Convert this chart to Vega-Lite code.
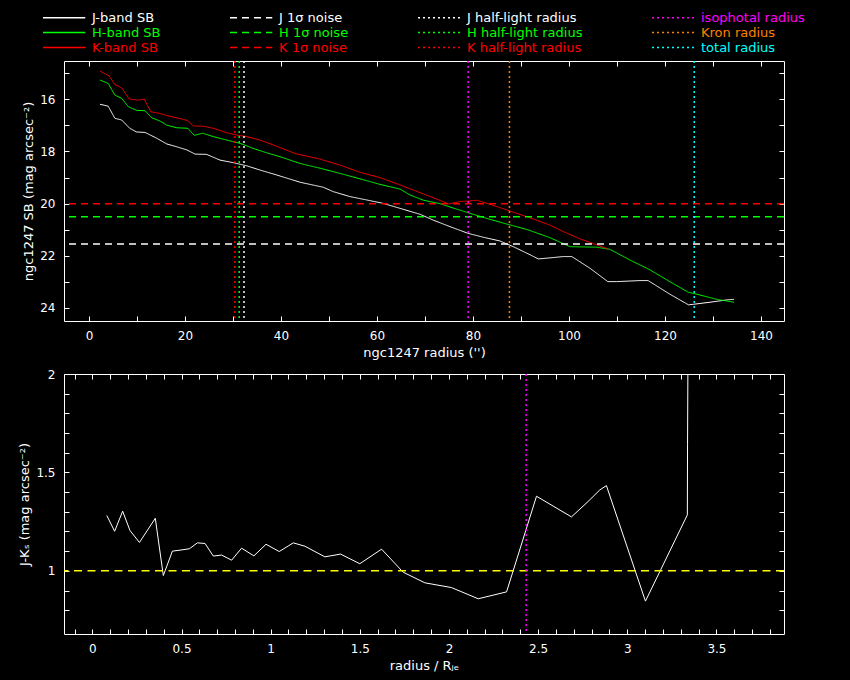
{
  "$schema": "https://vega.github.io/schema/vega-lite/v6.json",
  "background": "black",
  "padding": {"left": 18, "top": 10, "right": 45, "bottom": 8},
  "spacing": 7,
  "config": {
    "view": {"stroke": "white", "strokeWidth": 1},
    "font": "DejaVu Sans",
    "axis": {
      "domain": false,
      "grid": false,
      "tickColor": "white",
      "tickSize": -5,
      "labelColor": "white",
      "labelFont": "DejaVu Sans",
      "labelFontSize": 12,
      "labelPadding": 14,
      "titleColor": "white",
      "titleFont": "DejaVu Sans",
      "titleFontSize": 13,
      "titleFontWeight": "normal"
    }
  },
  "datasets": {
    "sb": [
      {"series": "J-band SB", "r": 2.3, "mu": 16.19},
      {"series": "J-band SB", "r": 4.0, "mu": 16.26},
      {"series": "J-band SB", "r": 5.4, "mu": 16.73},
      {"series": "J-band SB", "r": 6.8, "mu": 16.79},
      {"series": "J-band SB", "r": 8.5, "mu": 17.11},
      {"series": "J-band SB", "r": 9.9, "mu": 17.25},
      {"series": "J-band SB", "r": 11.7, "mu": 17.27},
      {"series": "J-band SB", "r": 14.1, "mu": 17.49},
      {"series": "J-band SB", "r": 16.2, "mu": 17.71},
      {"series": "J-band SB", "r": 18.3, "mu": 17.82},
      {"series": "J-band SB", "r": 20.4, "mu": 17.94},
      {"series": "J-band SB", "r": 22.1, "mu": 18.10},
      {"series": "J-band SB", "r": 24.5, "mu": 18.11},
      {"series": "J-band SB", "r": 27.3, "mu": 18.33},
      {"series": "J-band SB", "r": 30.1, "mu": 18.43},
      {"series": "J-band SB", "r": 32.9, "mu": 18.55},
      {"series": "J-band SB", "r": 35.6, "mu": 18.71},
      {"series": "J-band SB", "r": 39.1, "mu": 18.90},
      {"series": "J-band SB", "r": 44.0, "mu": 19.18},
      {"series": "J-band SB", "r": 48.8, "mu": 19.37},
      {"series": "J-band SB", "r": 50.9, "mu": 19.54},
      {"series": "J-band SB", "r": 54.4, "mu": 19.73},
      {"series": "J-band SB", "r": 57.9, "mu": 19.86},
      {"series": "J-band SB", "r": 61.3, "mu": 19.99},
      {"series": "J-band SB", "r": 64.8, "mu": 20.18},
      {"series": "J-band SB", "r": 69.0, "mu": 20.41},
      {"series": "J-band SB", "r": 71.7, "mu": 20.63},
      {"series": "J-band SB", "r": 75.2, "mu": 20.88},
      {"series": "J-band SB", "r": 79.0, "mu": 21.14},
      {"series": "J-band SB", "r": 82.2, "mu": 21.29},
      {"series": "J-band SB", "r": 85.6, "mu": 21.43},
      {"series": "J-band SB", "r": 88.4, "mu": 21.65},
      {"series": "J-band SB", "r": 91.9, "mu": 21.96},
      {"series": "J-band SB", "r": 93.6, "mu": 22.12},
      {"series": "J-band SB", "r": 95.4, "mu": 22.09},
      {"series": "J-band SB", "r": 98.8, "mu": 22.03},
      {"series": "J-band SB", "r": 100.6, "mu": 22.03},
      {"series": "J-band SB", "r": 104.4, "mu": 22.48},
      {"series": "J-band SB", "r": 108.1, "mu": 22.99},
      {"series": "J-band SB", "r": 109.9, "mu": 22.99},
      {"series": "J-band SB", "r": 114.8, "mu": 22.95},
      {"series": "J-band SB", "r": 116.5, "mu": 22.95},
      {"series": "J-band SB", "r": 121.0, "mu": 23.47},
      {"series": "J-band SB", "r": 124.9, "mu": 23.88},
      {"series": "J-band SB", "r": 125.9, "mu": 23.86},
      {"series": "J-band SB", "r": 129.4, "mu": 23.78},
      {"series": "J-band SB", "r": 132.9, "mu": 23.69},
      {"series": "J-band SB", "r": 134.4, "mu": 23.67},
      {"series": "H-band SB", "r": 2.3, "mu": 15.26},
      {"series": "H-band SB", "r": 4.0, "mu": 15.39},
      {"series": "H-band SB", "r": 5.4, "mu": 15.84},
      {"series": "H-band SB", "r": 6.8, "mu": 15.96},
      {"series": "H-band SB", "r": 8.2, "mu": 16.28},
      {"series": "H-band SB", "r": 9.9, "mu": 16.42},
      {"series": "H-band SB", "r": 11.7, "mu": 16.44},
      {"series": "H-band SB", "r": 13.1, "mu": 16.71},
      {"series": "H-band SB", "r": 14.8, "mu": 16.83},
      {"series": "H-band SB", "r": 16.2, "mu": 16.99},
      {"series": "H-band SB", "r": 18.3, "mu": 17.09},
      {"series": "H-band SB", "r": 20.6, "mu": 17.11},
      {"series": "H-band SB", "r": 21.9, "mu": 17.38},
      {"series": "H-band SB", "r": 23.7, "mu": 17.30},
      {"series": "H-band SB", "r": 25.9, "mu": 17.43},
      {"series": "H-band SB", "r": 28.7, "mu": 17.56},
      {"series": "H-band SB", "r": 31.5, "mu": 17.69},
      {"series": "H-band SB", "r": 34.2, "mu": 17.88},
      {"series": "H-band SB", "r": 37.0, "mu": 18.05},
      {"series": "H-band SB", "r": 39.8, "mu": 18.20},
      {"series": "H-band SB", "r": 44.0, "mu": 18.46},
      {"series": "H-band SB", "r": 48.1, "mu": 18.64},
      {"series": "H-band SB", "r": 52.3, "mu": 18.84},
      {"series": "H-band SB", "r": 56.5, "mu": 19.05},
      {"series": "H-band SB", "r": 60.6, "mu": 19.26},
      {"series": "H-band SB", "r": 64.8, "mu": 19.44},
      {"series": "H-band SB", "r": 66.9, "mu": 19.67},
      {"series": "H-band SB", "r": 69.7, "mu": 19.87},
      {"series": "H-band SB", "r": 73.1, "mu": 20.00},
      {"series": "H-band SB", "r": 76.6, "mu": 20.21},
      {"series": "H-band SB", "r": 80.1, "mu": 20.41},
      {"series": "H-band SB", "r": 83.5, "mu": 20.60},
      {"series": "H-band SB", "r": 87.0, "mu": 20.78},
      {"series": "H-band SB", "r": 91.2, "mu": 20.99},
      {"series": "H-band SB", "r": 96.0, "mu": 21.30},
      {"series": "H-band SB", "r": 100.2, "mu": 21.65},
      {"series": "H-band SB", "r": 105.8, "mu": 21.67},
      {"series": "H-band SB", "r": 108.5, "mu": 21.75},
      {"series": "H-band SB", "r": 112.7, "mu": 22.16},
      {"series": "H-band SB", "r": 116.9, "mu": 22.54},
      {"series": "H-band SB", "r": 121.0, "mu": 22.99},
      {"series": "H-band SB", "r": 124.9, "mu": 23.40},
      {"series": "H-band SB", "r": 126.6, "mu": 23.47},
      {"series": "H-band SB", "r": 130.8, "mu": 23.67},
      {"series": "H-band SB", "r": 134.4, "mu": 23.78},
      {"series": "K-band SB", "r": 2.3, "mu": 14.92},
      {"series": "K-band SB", "r": 4.2, "mu": 15.10},
      {"series": "K-band SB", "r": 5.4, "mu": 15.43},
      {"series": "K-band SB", "r": 6.8, "mu": 15.56},
      {"series": "K-band SB", "r": 8.4, "mu": 15.99},
      {"series": "K-band SB", "r": 10.3, "mu": 16.03},
      {"series": "K-band SB", "r": 11.5, "mu": 15.99},
      {"series": "K-band SB", "r": 12.9, "mu": 16.48},
      {"series": "K-band SB", "r": 14.8, "mu": 16.54},
      {"series": "K-band SB", "r": 15.8, "mu": 16.60},
      {"series": "K-band SB", "r": 17.6, "mu": 16.68},
      {"series": "K-band SB", "r": 19.7, "mu": 16.77},
      {"series": "K-band SB", "r": 20.7, "mu": 16.83},
      {"series": "K-band SB", "r": 21.7, "mu": 17.02},
      {"series": "K-band SB", "r": 23.8, "mu": 17.03},
      {"series": "K-band SB", "r": 25.9, "mu": 17.11},
      {"series": "K-band SB", "r": 28.7, "mu": 17.28},
      {"series": "K-band SB", "r": 30.8, "mu": 17.37},
      {"series": "K-band SB", "r": 32.9, "mu": 17.43},
      {"series": "K-band SB", "r": 35.6, "mu": 17.56},
      {"series": "K-band SB", "r": 38.4, "mu": 17.75},
      {"series": "K-band SB", "r": 43.0, "mu": 18.08},
      {"series": "K-band SB", "r": 48.1, "mu": 18.29},
      {"series": "K-band SB", "r": 52.3, "mu": 18.52},
      {"series": "K-band SB", "r": 56.5, "mu": 18.80},
      {"series": "K-band SB", "r": 60.6, "mu": 19.00},
      {"series": "K-band SB", "r": 64.8, "mu": 19.28},
      {"series": "K-band SB", "r": 69.0, "mu": 19.58},
      {"series": "K-band SB", "r": 72.4, "mu": 19.82},
      {"series": "K-band SB", "r": 74.9, "mu": 20.01},
      {"series": "K-band SB", "r": 77.3, "mu": 19.92},
      {"series": "K-band SB", "r": 79.0, "mu": 19.90},
      {"series": "K-band SB", "r": 80.8, "mu": 19.87},
      {"series": "K-band SB", "r": 82.9, "mu": 19.99},
      {"series": "K-band SB", "r": 85.6, "mu": 20.15},
      {"series": "K-band SB", "r": 89.1, "mu": 20.37},
      {"series": "K-band SB", "r": 92.6, "mu": 20.59},
      {"series": "K-band SB", "r": 96.0, "mu": 20.82},
      {"series": "K-band SB", "r": 98.8, "mu": 21.07},
      {"series": "K-band SB", "r": 102.3, "mu": 21.35},
      {"series": "K-band SB", "r": 105.8, "mu": 21.58},
      {"series": "K-band SB", "r": 108.2, "mu": 21.74}
    ],
    "noise": [
      {"series": "J 1σ noise", "mu": 21.55},
      {"series": "H 1σ noise", "mu": 20.5},
      {"series": "K 1σ noise", "mu": 20.0}
    ],
    "radii": [
      {"series": "K half-light radius", "r": 30.4},
      {"series": "H half-light radius", "r": 31.3},
      {"series": "J half-light radius", "r": 32.3},
      {"series": "isophotal radius", "r": 79.0},
      {"series": "Kron radius", "r": 87.6},
      {"series": "total radius", "r": 126.1}
    ],
    "colour": [
      {"x": 0.081, "jk": 1.281},
      {"x": 0.125, "jk": 1.201},
      {"x": 0.170, "jk": 1.303},
      {"x": 0.211, "jk": 1.205},
      {"x": 0.264, "jk": 1.144},
      {"x": 0.353, "jk": 1.267},
      {"x": 0.398, "jk": 0.976},
      {"x": 0.449, "jk": 1.100},
      {"x": 0.492, "jk": 1.105},
      {"x": 0.544, "jk": 1.112},
      {"x": 0.589, "jk": 1.142},
      {"x": 0.632, "jk": 1.139},
      {"x": 0.678, "jk": 1.075},
      {"x": 0.725, "jk": 1.080},
      {"x": 0.781, "jk": 1.054},
      {"x": 0.837, "jk": 1.115},
      {"x": 0.906, "jk": 1.076},
      {"x": 0.974, "jk": 1.135},
      {"x": 1.048, "jk": 1.098},
      {"x": 1.127, "jk": 1.142},
      {"x": 1.192, "jk": 1.125},
      {"x": 1.304, "jk": 1.071},
      {"x": 1.392, "jk": 1.085},
      {"x": 1.500, "jk": 1.036},
      {"x": 1.622, "jk": 1.110},
      {"x": 1.743, "jk": 0.993},
      {"x": 1.865, "jk": 0.939},
      {"x": 2.014, "jk": 0.915},
      {"x": 2.164, "jk": 0.858},
      {"x": 2.323, "jk": 0.893},
      {"x": 2.491, "jk": 1.379},
      {"x": 2.687, "jk": 1.274},
      {"x": 2.780, "jk": 1.352},
      {"x": 2.846, "jk": 1.411},
      {"x": 2.883, "jk": 1.433},
      {"x": 3.102, "jk": 0.846},
      {"x": 3.337, "jk": 1.284},
      {"x": 3.338, "jk": 1.640},
      {"x": 3.343, "jk": 2.600}
    ],
    "unity": [{"jk": 1.0}],
    "iso": [{"series": "isophotal radius", "x": 2.433}]
  },
  "vconcat": [
    {
      "width": 720,
      "height": 260,
      "layer": [
        {
          "data": {"name": "sb"},
          "mark": {"type": "line", "strokeWidth": 1, "clip": true},
          "encoding": {
            "x": {
              "field": "r", "type": "quantitative",
              "scale": {"domain": [-5.2, 144.8], "nice": false, "zero": false},
              "axis": {
                "orient": "bottom",
                "values": [0, 10, 20, 30, 40, 50, 60, 70, 80, 90, 100, 110, 120, 130, 140],
                "labelExpr": "datum.value % 20 == 0 ? datum.label : ''",
                "title": "ngc1247 radius ('')",
                "titlePadding": 5
              }
            },
            "y": {
              "field": "mu", "type": "quantitative",
              "scale": {"domain": [24.5, 14.53], "nice": false, "zero": false},
              "axis": {
                "orient": "left",
                "values": [15, 16, 17, 18, 19, 20, 21, 22, 23, 24],
                "labelExpr": "datum.value % 2 == 0 ? datum.label : ''",
                "title": "ngc1247 SB (mag arcsec⁻²)",
                "titlePadding": 4
              }
            },
            "color": {
              "field": "series", "type": "nominal",
              "scale": {
                "domain": ["J-band SB", "H-band SB", "K-band SB",
                           "J 1σ noise", "H 1σ noise", "K 1σ noise",
                           "J half-light radius", "H half-light radius", "K half-light radius",
                           "isophotal radius", "Kron radius", "total radius"],
                "range": ["#ffffff", "#00ff00", "#ff0000",
                          "#ffffff", "#00ff00", "#ff0000",
                          "#ffffff", "#00ff00", "#ff0000",
                          "#ff00ff", "#ff8000", "#00ffff"]
              },
              "legend": {
                "orient": "none",
                "legendX": -22,
                "legendY": -51,
                "columns": 4,
                "title": null,
                "symbolType": "M-1,0L5.5,0",
                "symbolSize": 169,
                "symbolStrokeWidth": 1.5,
                "labelFont": "DejaVu Sans",
                "labelFontSize": 13,
                "labelColor": "white",
                "labelOffset": 35,
                "columnPadding": 66,
                "rowPadding": 0,
                "encode": {"labels": {"update": {"fill": {"signal": "scale('color', datum.value)"}}}}
              }
            },
            "strokeDash": {
              "field": "series", "type": "nominal",
              "scale": {
                "domain": ["J-band SB", "H-band SB", "K-band SB",
                           "J 1σ noise", "H 1σ noise", "K 1σ noise",
                           "J half-light radius", "H half-light radius", "K half-light radius",
                           "isophotal radius", "Kron radius", "total radius"],
                "range": [[1, 0], [1, 0], [1, 0],
                          [7, 5], [7, 5], [7, 5],
                          [2, 3], [2, 3], [2, 3],
                          [2, 3], [2, 3], [2, 3]]
              }
            }
          }
        },
        {
          "data": {"name": "noise"},
          "mark": {"type": "rule", "strokeWidth": 1.5},
          "encoding": {
            "y": {
              "field": "mu", "type": "quantitative",
              "axis": {"orient": "right", "values": [15, 16, 17, 18, 19, 20, 21, 22, 23, 24], "labels": false, "title": null}
            },
            "color": {"field": "series", "type": "nominal"},
            "strokeDash": {"field": "series", "type": "nominal"}
          }
        },
        {
          "data": {"name": "radii"},
          "mark": {"type": "rule", "strokeWidth": 1.5},
          "encoding": {
            "x": {
              "field": "r", "type": "quantitative",
              "axis": {"orient": "top", "values": [0, 10, 20, 30, 40, 50, 60, 70, 80, 90, 100, 110, 120, 130, 140], "labels": false, "title": null}
            },
            "color": {"field": "series", "type": "nominal"},
            "strokeDash": {"field": "series", "type": "nominal"}
          }
        }
      ],
      "resolve": {"axis": {"x": "independent", "y": "independent"}}
    },
    {
      "width": 720,
      "height": 260,
      "layer": [
        {
          "data": {"name": "colour"},
          "mark": {"type": "line", "strokeWidth": 1, "color": "white", "clip": true},
          "encoding": {
            "x": {
              "field": "x", "type": "quantitative",
              "scale": {"domain": [-0.159, 3.879], "nice": false, "zero": false},
              "axis": {
                "orient": "bottom",
                "values": [-0.1, 0, 0.1, 0.2, 0.3, 0.4, 0.5, 0.6, 0.7, 0.8, 0.9, 1, 1.1, 1.2, 1.3, 1.4, 1.5, 1.6, 1.7, 1.8, 1.9, 2, 2.1, 2.2, 2.3, 2.4, 2.5, 2.6, 2.7, 2.8, 2.9, 3, 3.1, 3.2, 3.3, 3.4, 3.5, 3.6, 3.7, 3.8],
                "labelExpr": "abs(datum.value * 2 - round(datum.value * 2)) < 0.001 ? format(datum.value, '~g') : ''",
                "title": "radius / Rⱼₑ",
                "titlePadding": 5
              }
            },
            "y": {
              "field": "jk", "type": "quantitative",
              "scale": {"domain": [0.679, 2.0], "nice": false, "zero": false},
              "axis": {
                "orient": "left",
                "values": [0.8, 0.9, 1, 1.1, 1.2, 1.3, 1.4, 1.5, 1.6, 1.7, 1.8, 1.9, 2],
                "labelExpr": "abs(datum.value * 2 - round(datum.value * 2)) < 0.001 ? format(datum.value, '~g') : ''",
                "title": "J-Kₛ (mag arcsec⁻²)",
                "titlePadding": 4
              }
            }
          }
        },
        {
          "data": {"name": "unity"},
          "mark": {"type": "rule", "strokeWidth": 1.5, "color": "#ffff00", "strokeDash": [8, 5.5]},
          "encoding": {
            "y": {
              "field": "jk", "type": "quantitative",
              "axis": {"orient": "right", "values": [0.8, 0.9, 1, 1.1, 1.2, 1.3, 1.4, 1.5, 1.6, 1.7, 1.8, 1.9, 2], "labels": false, "title": null}
            }
          }
        },
        {
          "data": {"name": "iso"},
          "mark": {"type": "rule", "strokeWidth": 1.5},
          "encoding": {
            "x": {
              "field": "x", "type": "quantitative",
              "axis": {"orient": "top", "values": [-0.1, 0, 0.1, 0.2, 0.3, 0.4, 0.5, 0.6, 0.7, 0.8, 0.9, 1, 1.1, 1.2, 1.3, 1.4, 1.5, 1.6, 1.7, 1.8, 1.9, 2, 2.1, 2.2, 2.3, 2.4, 2.5, 2.6, 2.7, 2.8, 2.9, 3, 3.1, 3.2, 3.3, 3.4, 3.5, 3.6, 3.7, 3.8], "labels": false, "title": null}
            },
            "color": {"field": "series", "type": "nominal"},
            "strokeDash": {"field": "series", "type": "nominal"}
          }
        }
      ],
      "resolve": {"axis": {"x": "independent", "y": "independent"}}
    }
  ]
}
